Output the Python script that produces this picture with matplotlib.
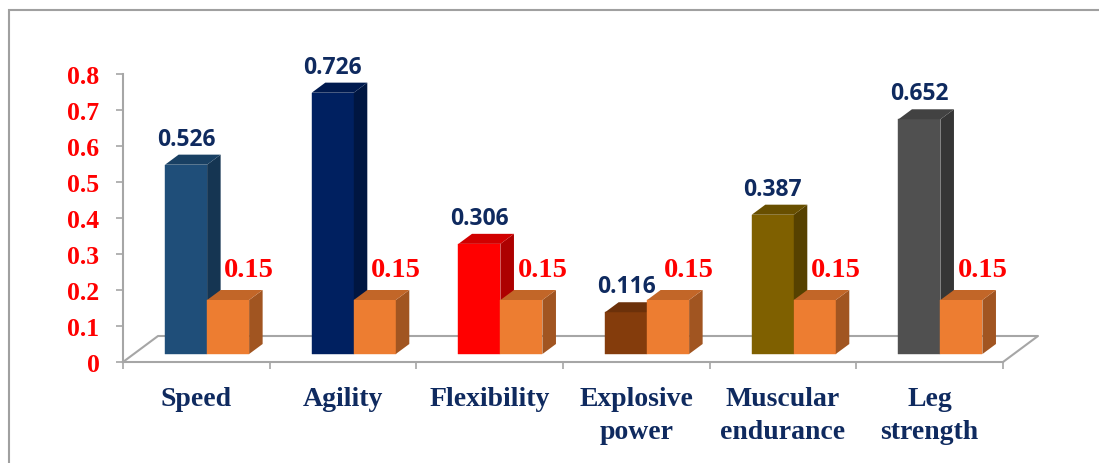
import matplotlib.pyplot as plt
import numpy as np
from matplotlib.colors import to_rgb
from matplotlib.patches import Rectangle

categories = ["Speed", "Agility", "Flexibility", "Explosive\npower", "Muscular\nendurance", "Leg\nstrength"]
values = [0.526, 0.726, 0.306, 0.116, 0.387, 0.652]
reference = [0.15, 0.15, 0.15, 0.15, 0.15, 0.15]
bar_colors = ["#1F4E79", "#002060", "#FF0000", "#843C0C", "#7F6000", "#505050"]
ref_color = "#ED7D31"
yticks = [0, 0.1, 0.2, 0.3, 0.4, 0.5, 0.6, 0.7, 0.8]
ytick_labels = ["0", "0.1", "0.2", "0.3", "0.4", "0.5", "0.6", "0.7", "0.8"]

NAVY = "#0F2A5F"
GRID = "#A6A6A6"

W, H = 1099, 464
fig = plt.figure(figsize=(W / 100, H / 100), dpi=100)
ax_l, ax_r, ax_t, ax_b = 123, 1003, 75, 363
ax = fig.add_axes([ax_l / W, (H - ax_b) / H, (ax_r - ax_l) / W, (ax_b - ax_t) / H])
ax.set_xlim(-0.5, 5.5)
ax.set_ylim(0, 0.8)

# pixel -> data unit conversion
ux = 6 / (ax_r - ax_l)
uy = 0.8 / (ax_b - ax_t)

# 3d geometry (pixels)
floor_dx, floor_dy = 35 * ux, 26 * uy
front_dx, front_dy = 10.8 * ux, 8 * uy
bar_dx, bar_dy = 13.5 * ux, 10 * uy
bw = 42 * ux


def shade(c, f):
    return tuple(np.array(to_rgb(c)) * f)


def bar3d(x0, h, color, z):
    x1 = x0 + bw
    b = front_dy
    ax.add_patch(Rectangle((x0, b), bw, h, facecolor=color, edgecolor=color, lw=0.3, zorder=z, clip_on=False))
    ax.fill([x1, x1 + bar_dx, x1 + bar_dx, x1], [b, b + bar_dy, b + h + bar_dy, b + h],
            color=shade(color, 0.68), lw=0, zorder=z, clip_on=False)
    ax.fill([x0, x1, x1 + bar_dx, x0 + bar_dx], [b + h, b + h, b + h + bar_dy, b + h + bar_dy],
            color=shade(color, 0.82), lw=0, zorder=z, clip_on=False)


x = np.arange(len(categories))
for i in x:
    cx = i + front_dx
    bar3d(cx - bw, values[i], bar_colors[i], 3)
    bar3d(cx, reference[i], ref_color, 4)
    ax.text(cx - bw / 2, values[i] + front_dy + 26 * uy, f"{values[i]:.3f}", ha="center", va="center",
            color=NAVY, fontsize=16.5, fontweight="bold", family="Open Sans", zorder=6)
    ax.text(i + 0.36, reference[i] + 0.108, f"{reference[i]:.2f}", ha="center", va="center",
            color="red", fontsize=20.5, fontweight="bold", family="Liberation Serif", zorder=6)

# floor outline
ax.plot([-0.5, -0.5 + floor_dx, 5.5 + floor_dx, 5.5], [0, floor_dy, floor_dy, 0],
        color=GRID, lw=1.5, zorder=1, clip_on=False)

for s in ["top", "right"]:
    ax.spines[s].set_visible(False)
for s in ["left", "bottom"]:
    ax.spines[s].set_color(GRID)
    ax.spines[s].set_linewidth(1.5)

ax.set_yticks(yticks)
ax.set_yticklabels(ytick_labels, fontsize=18.5, fontweight="bold", color="red", family="Liberation Serif")
ax.tick_params(axis="y", length=5, width=1.2, color=GRID, pad=12)

ax.set_xticks(x)
ax.set_xticklabels(categories, fontsize=20, fontweight="bold", color=NAVY, family="Liberation Serif",
                   linespacing=1.42, va="top")
ax.tick_params(axis="x", which="major", length=0, pad=17)
ax.set_xticks(np.arange(-0.5, 6, 1), minor=True)
ax.tick_params(axis="x", which="minor", length=5, width=1.2, color=GRID)

# outer frame
fig.patches.append(Rectangle((9 / W, -0.1), 1.2, (H - 11) / H + 0.1, transform=fig.transFigure,
                             fill=False, edgecolor="#A0A0A0", lw=1.5))

fig.savefig("out.png", dpi=100)
